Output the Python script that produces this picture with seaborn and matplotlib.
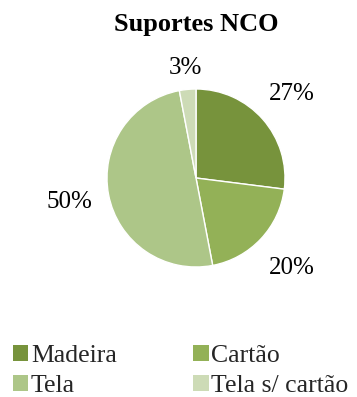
import matplotlib
matplotlib.use("Agg")
import matplotlib.pyplot as plt
import seaborn as sns
import numpy as np
from matplotlib.patches import Patch

categories = ["Madeira", "Cartão", "Tela", "Tela s/ cartão"]
values = [27, 20, 50, 3]
pct_labels = ["27%", "20%", "50%", "3%"]
colors = ["#77933C", "#93B157", "#ADC688", "#CDDBB6"]
title = "Suportes NCO"

sns.set_theme(style="white")
plt.rcParams["font.family"] = ["Liberation Serif", "DejaVu Serif"]

W, H = 357, 397
fig = plt.figure(figsize=(W / 100, H / 100), dpi=100)
fig.patch.set_facecolor("white")

cx, cy, R = 196, 178, 89
ax = fig.add_axes([(cx - R) / W, (H - cy - R) / H, 2 * R / W, 2 * R / H])
wedges, _ = ax.pie(values, colors=colors, startangle=90, counterclock=False,
                   radius=1.0, wedgeprops=dict(edgecolor="white", linewidth=1.0))
ax.set_xlim(-1, 1)
ax.set_ylim(-1, 1)
ax.set_aspect("equal")
ax.axis("off")

label_dist = [1.43, 1.47, 1.45, 1.24]
total = sum(values)
cum = 0
for v, lab, d in zip(values, pct_labels, label_dist):
    mid = (cum + v / 2) / total
    ang = np.deg2rad(90 - 360 * mid)
    ax.text(d * np.cos(ang), d * np.sin(ang), lab, ha="center", va="center",
            fontsize=18, color="black", clip_on=False)
    cum += v

fig.text(196 / W, 1 - 25 / H, title, ha="center", va="center",
         fontsize=19, fontweight="bold", color="black")

# legend filled row-major (2 columns)
order = [0, 2, 1, 3]
handles = [Patch(facecolor=colors[i], edgecolor="none") for i in order]
labels = [categories[i] for i in order]
leg = fig.legend(handles, labels, ncol=2, loc="upper left",
                 bbox_to_anchor=(13 / W, 1 - 345 / H), frameon=False,
                 fontsize=18.5, handlelength=0.6, handleheight=0.6,
                 handletextpad=0.1, columnspacing=2.97, labelspacing=0.3,
                 borderpad=0, borderaxespad=0)

fig.savefig("out.png", dpi=100, facecolor="white")
